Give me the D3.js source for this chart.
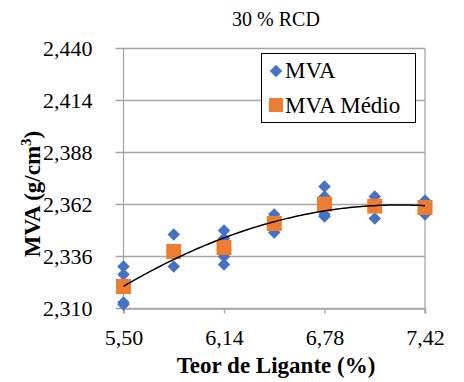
<!DOCTYPE html>
<html>
<head>
<meta charset="utf-8">
<script src="https://cdn.jsdelivr.net/npm/d3@7"></script>
<style>
  html, body { margin: 0; padding: 0; background: #fff; }
  svg { display: block; }
</style>
</head>
<body>
<svg id="chart" width="464" height="382"></svg>
<script>
// Teor de ligante (%) for each measured specimen
const mvaX = [5.50, 5.50, 5.50, 5.50,
              5.82, 5.82, 5.82,
              6.14, 6.14, 6.14, 6.14,
              6.46, 6.46, 6.46,
              6.78, 6.78, 6.78, 6.78,
              7.10, 7.10, 7.10,
              7.42, 7.42, 7.42];
// Massa volumétrica aparente (g/cm³) per specimen
const mvaY = [2.331, 2.327, 2.313, 2.312,
              2.347, 2.331, 2.338,
              2.349, 2.345, 2.336, 2.332,
              2.357, 2.348, 2.353,
              2.371, 2.366, 2.357, 2.356,
              2.366, 2.355, 2.362,
              2.364, 2.357, 2.360];
// Mean per binder content
const meanX = [5.50, 5.82, 6.14, 6.46, 6.78, 7.10, 7.42];
const meanY = [2.321, 2.3385, 2.3405, 2.3525, 2.3622, 2.3612, 2.3605];

const xTicks = [5.50, 6.14, 6.78, 7.42];
const yTicks = [2.310, 2.336, 2.362, 2.388, 2.414, 2.440];

const titleText = "30 % RCD";
const xTitle = "Teor de Ligante (%)";
const seriesNames = ["MVA", "MVA Médio"];

const SERIF = "'Liberation Serif', 'Times New Roman', serif";
const fmt2 = v => v.toFixed(2).replace(".", ",");
const fmt3 = v => v.toFixed(3).replace(".", ",");

const svg = d3.select("#chart");
const m = { left: 123.5, right: 425, top: 48.5, bottom: 308.5 };

const x = d3.scaleLinear().domain([5.50, 7.42]).range([m.left, m.right]);
const y = d3.scaleLinear().domain([2.310, 2.440]).range([m.bottom, m.top]);

const gridColor = "#a6a6a6";

// horizontal gridlines (extend left as outer ticks)
svg.append("g")
  .selectAll("line")
  .data(yTicks)
  .join("line")
  .attr("x1", m.left - 8).attr("x2", m.right)
  .attr("y1", d => y(d)).attr("y2", d => y(d))
  .attr("stroke", gridColor).attr("stroke-width", 1.3);

// right border and left axis
svg.append("line")
  .attr("x1", m.right).attr("x2", m.right)
  .attr("y1", m.top).attr("y2", m.bottom + 5)
  .attr("stroke", gridColor).attr("stroke-width", 1.3);
svg.append("line")
  .attr("x1", m.left).attr("x2", m.left)
  .attr("y1", m.top).attr("y2", m.bottom + 5)
  .attr("stroke", gridColor).attr("stroke-width", 1.3);

// x axis with ticks
const xAxis = d3.axisBottom(x).tickValues(xTicks).tickFormat(fmt2).tickSize(5).tickPadding(16);
const gx = svg.append("g").attr("transform", `translate(0,${m.bottom})`).call(xAxis);
gx.attr("font-family", null).attr("font-size", null);
gx.select(".domain").attr("stroke", gridColor).attr("stroke-width", 1.3);
gx.selectAll(".tick line").attr("stroke", gridColor).attr("stroke-width", 1.3);
gx.selectAll(".tick text")
  .style("font-family", SERIF)
  .style("font-size", "22px").attr("fill", "#000");

// y tick labels
const yAxis = d3.axisLeft(y).tickValues(yTicks).tickFormat(fmt3).tickSize(0).tickPadding(31);
const gy = svg.append("g").attr("transform", `translate(${m.left},0)`).call(yAxis);
gy.attr("font-family", null).attr("font-size", null);
gy.select(".domain").remove();
gy.selectAll(".tick text")
  .style("font-family", SERIF)
  .style("font-size", "22px").attr("fill", "#000");

// quadratic least-squares trendline through all specimens
function polyFit2(xs, ys) {
  const n = xs.length;
  let s = [0, 0, 0, 0, 0], t = [0, 0, 0];
  for (let i = 0; i < n; i++) {
    const xi = xs[i], yi = ys[i];
    for (let k = 0; k < 5; k++) s[k] += Math.pow(xi, k);
    for (let k = 0; k < 3; k++) t[k] += yi * Math.pow(xi, k);
  }
  const A = [[s[0], s[1], s[2], t[0]], [s[1], s[2], s[3], t[1]], [s[2], s[3], s[4], t[2]]];
  for (let c = 0; c < 3; c++) {
    for (let r = c + 1; r < 3; r++) {
      const f = A[r][c] / A[c][c];
      for (let k = c; k < 4; k++) A[r][k] -= f * A[c][k];
    }
  }
  const b = [0, 0, 0];
  for (let r = 2; r >= 0; r--) {
    let v = A[r][3];
    for (let k = r + 1; k < 3; k++) v -= A[r][k] * b[k];
    b[r] = v / A[r][r];
  }
  return xv => b[0] + b[1] * xv + b[2] * xv * xv;
}
const trend = polyFit2(mvaX, mvaY);
const trendPts = d3.range(0, 101).map(i => {
  const xv = 5.50 + (7.42 - 5.50) * i / 100;
  return [xv, trend(xv)];
});

// specimens (diamonds)
const diamond = d3.symbol().type(d3.symbolDiamond2).size(100);
svg.append("g")
  .selectAll("path")
  .data(mvaX.map((d, i) => [d, mvaY[i]]))
  .join("path")
  .attr("d", diamond)
  .attr("transform", d => `translate(${x(d[0])},${y(d[1])})`)
  .attr("fill", "#4472c4");

// means (squares)
const sq = 15;
svg.append("g")
  .selectAll("rect")
  .data(meanX.map((d, i) => [d, meanY[i]]))
  .join("rect")
  .attr("x", d => x(d[0]) - sq / 2)
  .attr("y", d => y(d[1]) - sq / 2)
  .attr("width", sq).attr("height", sq)
  .attr("fill", "#ed7d31");

svg.append("path")
  .datum(trendPts)
  .attr("d", d3.line().x(d => x(d[0])).y(d => y(d[1])))
  .attr("fill", "none").attr("stroke", "#000").attr("stroke-width", 1.5);

// title
svg.append("text")
  .attr("x", 276).attr("y", 26)
  .attr("text-anchor", "middle")
  .style("font-family", SERIF)
  .style("font-size", "20px")
  .text(titleText);

// x axis title
svg.append("text")
  .attr("x", 276).attr("y", 373)
  .attr("text-anchor", "middle")
  .style("font-family", SERIF)
  .style("font-size", "23px").style("font-weight", "bold")
  .text(xTitle);

// y axis title with superscript
const yt = svg.append("text")
  .attr("transform", "translate(40,194) rotate(-90)")
  .attr("text-anchor", "middle")
  .style("font-family", SERIF)
  .style("font-size", "23px").style("font-weight", "bold");
yt.append("tspan").text("MVA (g/cm");
yt.append("tspan").attr("dy", -9).style("font-size", "15px").text("3");
yt.append("tspan").attr("dy", 9).text(")");

// legend
const lg = svg.append("g");
lg.append("rect")
  .attr("x", 261.5).attr("y", 53.5).attr("width", 154).attr("height", 69)
  .attr("fill", "#fff").attr("stroke", "#000").attr("stroke-width", 1);
lg.append("path").attr("d", diamond)
  .attr("transform", "translate(276,71)").attr("fill", "#4472c4");
lg.append("rect").attr("x", 269).attr("y", 98).attr("width", 14).attr("height", 14)
  .attr("fill", "#ed7d31");
lg.selectAll("text.lbl")
  .data(seriesNames)
  .join("text")
  .attr("class", "lbl")
  .attr("x", 285).attr("y", (d, i) => 78 + i * 35)
  .style("font-family", SERIF)
  .style("font-size", "23px")
  .text(d => d);
</script>
</body>
</html>
